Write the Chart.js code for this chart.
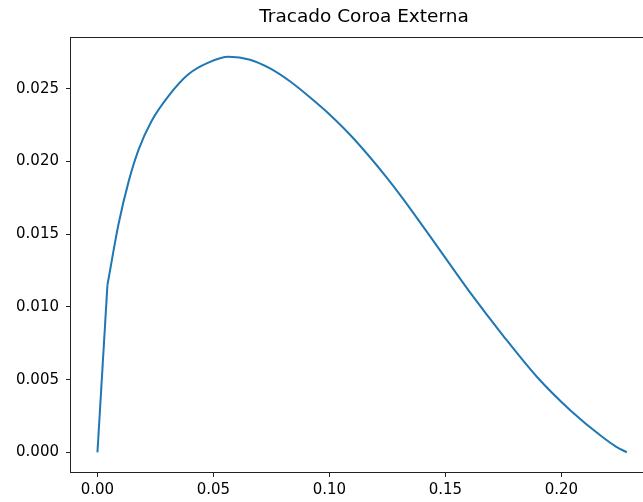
<!DOCTYPE html>
<html>
<head>
<meta charset="utf-8">
<script src="https://cdn.jsdelivr.net/npm/chart.js@4.4.0/dist/chart.umd.min.js"></script>
<style>
  html, body { margin: 0; padding: 0; overflow: hidden; background: #fff; }
  #wrap { width: 728px; height: 502px; }
</style>
</head>
<body>
<div id="wrap"><canvas id="line-chart" width="728" height="502"></canvas></div>
<script>
// Tracado coroa externa (x, y)
var xs = [0, 0.0043, 0.0091, 0.0134, 0.0177, 0.0234, 0.0306, 0.0392, 0.0478, 0.0565,
  0.0658, 0.0744, 0.0831, 0.0917, 0.1003, 0.1103, 0.1247, 0.1319, 0.1463, 0.1606,
  0.1750, 0.1894, 0.2038, 0.2181, 0.2235, 0.2282];
var ys = [0, 0.0115, 0.0157, 0.0186, 0.0208, 0.0228, 0.0245, 0.0260, 0.0268, 0.0272,
  0.0270, 0.0264, 0.0255, 0.0244, 0.0232, 0.0216, 0.0189, 0.0174, 0.0142, 0.0110,
  0.0080, 0.0052, 0.0029, 0.0010, 0.0004, 0.0000];
var xTicks = [0, 0.05, 0.10, 0.15, 0.20];
var yTicks = [0, 0.005, 0.010, 0.015, 0.020, 0.025];

var points = xs.map(function (x, i) { return { x: x, y: ys[i] }; });
// the first step is a straight segment, the rest is drawn smooth
var headPoints = points.slice(0, 2);
var tailPoints = points.slice(1);

// draws the box round the plot area
var frame = {
  id: "frame",
  afterDraw: function (chart) {
    var a = chart.chartArea, c = chart.ctx;
    c.save();
    c.strokeStyle = "#222";
    c.lineWidth = 1;
    c.strokeRect(Math.round(a.left) - 0.5, Math.round(a.top) - 0.5,
      Math.round(a.right - a.left) + 1, Math.round(a.bottom - a.top) + 1);
    c.restore();
  }
};

var ctx = document.getElementById("line-chart").getContext("2d");
var myChart = new Chart(ctx, {
  type: "line",
  data: {
    datasets: [{
      label: "Coroa Externa",
      data: headPoints,
      borderColor: "#1f77b4",
      borderWidth: 2,
      pointRadius: 0,
      fill: false,
      tension: 0
    }, {
      label: "Coroa Externa ",
      data: tailPoints,
      borderColor: "#1f77b4",
      borderWidth: 2,
      pointRadius: 0,
      fill: false,
      cubicInterpolationMode: "monotone"
    }]
  },
  options: {
    responsive: false,
    animation: false,
    layout: { padding: { left: 0, right: 71, top: 0, bottom: 0 } },
    plugins: {
      legend: { display: false },
      tooltip: { enabled: false },
      title: {
        display: true,
        fullSize: false,
        text: "Tracado Coroa Externa",
        color: "#000",
        font: { family: "DejaVu Sans", size: 18.5, weight: "normal" },
        padding: { top: 6, bottom: 10 }
      }
    },
    scales: {
      x: {
        type: "linear",
        min: -0.0114,
        max: 0.2412,
        afterBuildTicks: function (s) { s.ticks = xTicks.map(function (v) { return { value: v }; }); },
        afterFit: function (s) { s.height = 30; },
        border: { display: false },
        grid: { drawOnChartArea: false, drawTicks: true, tickLength: 5, tickColor: "#222" },
        ticks: {
          color: "#000",
          padding: 4,
          maxRotation: 0,
          font: { family: "DejaVu Sans", size: 15 },
          callback: function (v) { return v.toFixed(2); }
        }
      },
      y: {
        type: "linear",
        min: -0.00135,
        max: 0.02848,
        afterBuildTicks: function (s) { s.ticks = yTicks.map(function (v) { return { value: v }; }); },
        afterFit: function (s) { s.width = 71; },
        border: { display: false },
        grid: { drawOnChartArea: false, drawTicks: true, tickLength: 5, tickColor: "#222" },
        ticks: {
          color: "#000",
          padding: 7,
          font: { family: "DejaVu Sans", size: 15 },
          callback: function (v) { return v.toFixed(3); }
        }
      }
    }
  },
  plugins: [frame]
});
</script>
</body>
</html>
